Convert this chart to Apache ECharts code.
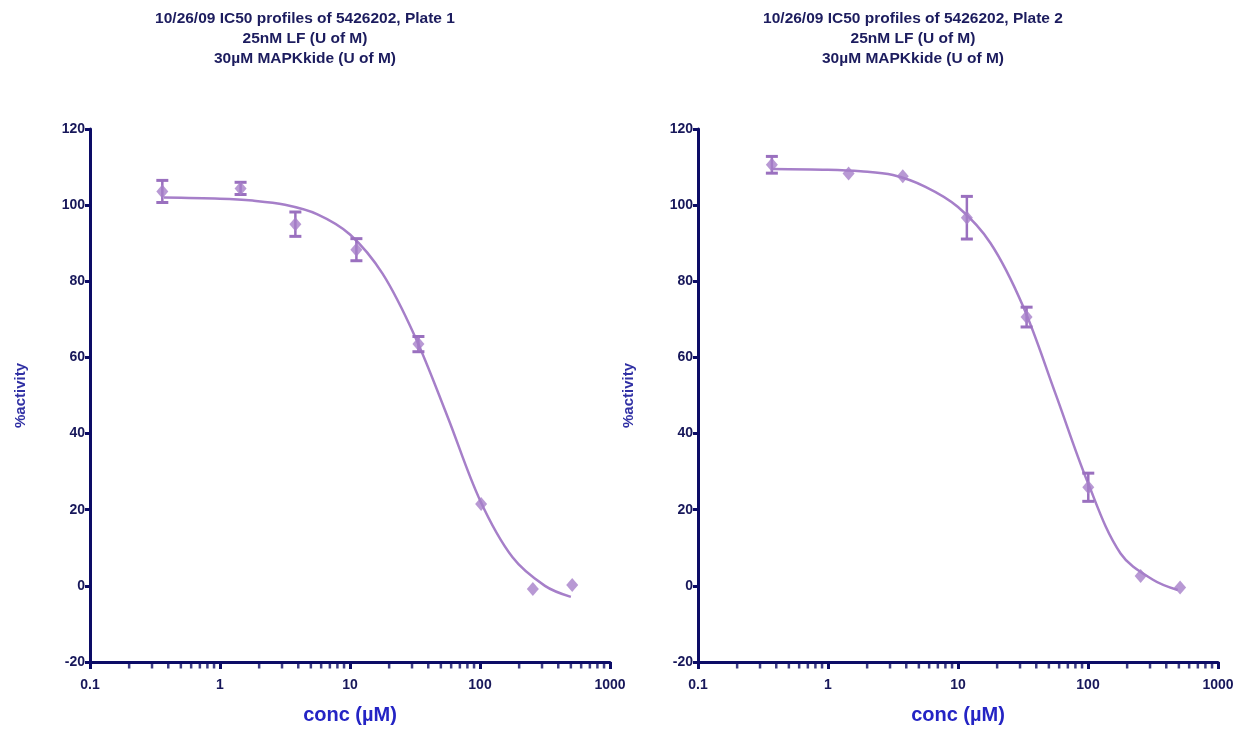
<!DOCTYPE html>
<html>
<head>
<meta charset="utf-8">
<script src="https://cdn.jsdelivr.net/npm/echarts@6/dist/echarts.min.js"></script>
<style>
html, body { margin: 0; background: #fff; }
#main { width: 1240px; height: 730px; }
</style>
</head>
<body>
<div id="main"></div>
<script>
// x axis minor ticks (2..9 of each decade)
var xMinor = [0.2, 0.3, 0.4, 0.5, 0.6, 0.7, 0.8, 0.9,
              2, 3, 4, 5, 6, 7, 8, 9,
              20, 30, 40, 50, 60, 70, 80, 90,
              200, 300, 400, 500, 600, 700, 800, 900];

// Plate 1
var conc1 = [0.36, 1.44, 3.8, 11.2, 33.6, 102, 255, 512];
var mean1 = [103.6, 104.4, 95.0, 88.3, 63.5, 21.5, -0.8, 0.2];
var err1  = [2.9, 1.6, 3.2, 2.9, 2.0, 0, 0, 0];
var fitX1 = [0.37, 1.0, 1.78, 3.16, 5.62, 10, 17.8, 31.6, 56.2, 100, 178, 316, 500];
var fitY1 = [102.0, 101.7, 101.2, 100.1, 97.6, 92.3, 82.0, 65.5, 44.5, 22.5, 7.5, 0.0, -2.9];

// Plate 2
var conc2 = [0.37, 1.44, 3.76, 11.7, 33.7, 100.5, 254, 511];
var mean2 = [110.6, 108.3, 107.6, 96.7, 70.6, 25.9, 2.6, -0.4];
var err2  = [2.2, 0, 0, 5.6, 2.6, 3.7, 0, 0];
var fitX2 = [0.37, 1.0, 1.78, 3.16, 5.62, 10, 17.8, 31.6, 56.2, 100, 178, 316, 490];
var fitY2 = [109.5, 109.3, 108.9, 107.9, 104.8, 99.5, 90.0, 73.5, 50.5, 27.0, 8.5, 1.6, -1.1];

var titles = [
  '10/26/09 IC50 profiles of 5426202, Plate 1\n25nM LF (U of M)\n30\u00b5M MAPKkide (U of M)',
  '10/26/09 IC50 profiles of 5426202, Plate 2\n25nM LF (U of M)\n30\u00b5M MAPKkide (U of M)'
];

var font = 'Liberation Sans, Arial, sans-serif';
var navy = '#0c0c66';
var labelNavy = '#17175a';
var purple = '#a67fc9';

var myChart = echarts.init(document.getElementById('main'));

function zip(a, b) {
  return a.map(function (v, i) { return [v, b[i]]; });
}

function xAxisOf(idx) {
  return {
    type: 'log', logBase: 10, gridIndex: idx, min: 0.1, max: 1000,
    name: 'conc (\u00b5M)', nameLocation: 'middle', nameGap: 43,
    nameTextStyle: { color: '#2424c4', fontSize: 20, fontWeight: 'bold', fontFamily: font },
    axisLine: { onZero: false, lineStyle: { color: navy, width: 3 } },
    axisTick: { length: 7, lineStyle: { color: navy, width: 3 } },
    axisLabel: { margin: 16, color: labelNavy, fontSize: 14, fontWeight: 'bold', fontFamily: font,
      formatter: function (v) { return String(+v.toPrecision(3)); } },
    splitLine: { show: false }
  };
}

function yAxisOf(idx) {
  return {
    type: 'value', gridIndex: idx, min: -20, max: 120, interval: 20,
    name: '%activity', nameLocation: 'middle', nameGap: 62,
    nameTextStyle: { color: '#3030a4', fontSize: 15, fontWeight: 'bold', fontFamily: font },
    axisLine: { show: true, lineStyle: { color: navy, width: 3 } },
    axisTick: { show: true, length: 5, lineStyle: { color: navy, width: 3 } },
    axisLabel: { margin: 5, color: labelNavy, fontSize: 14, fontWeight: 'bold', fontFamily: font },
    splitLine: { show: false }
  };
}

function errorBars(conc, mean, err, idx) {
  var data = [];
  conc.forEach(function (c, i) {
    if (err[i] > 0) data.push([c, mean[i] - err[i], mean[i] + err[i]]);
  });
  return {
    type: 'custom', xAxisIndex: idx, yAxisIndex: idx, z: 3,
    renderItem: function (params, api) {
      var lo = api.coord([api.value(0), api.value(1)]);
      var hi = api.coord([api.value(0), api.value(2)]);
      var w = 6;
      var st = { stroke: '#9a70bf', lineWidth: 2.5 };
      var cap = { stroke: '#9a70bf', lineWidth: 3 };
      return {
        type: 'group',
        children: [
          { type: 'line', shape: { x1: lo[0], y1: lo[1], x2: hi[0], y2: hi[1] }, style: st },
          { type: 'line', shape: { x1: lo[0] - w, y1: lo[1], x2: lo[0] + w, y2: lo[1] }, style: cap },
          { type: 'line', shape: { x1: hi[0] - w, y1: hi[1], x2: hi[0] + w, y2: hi[1] }, style: cap }
        ]
      };
    },
    data: data
  };
}

function panelSeries(conc, mean, err, fitX, fitY, idx) {
  return [
    {
      type: 'line', xAxisIndex: idx, yAxisIndex: idx, smooth: 0.35,
      showSymbol: false, data: zip(fitX, fitY),
      lineStyle: { color: purple, width: 2.5 }, z: 2
    },
    errorBars(conc, mean, err, idx),
    {
      type: 'scatter', xAxisIndex: idx, yAxisIndex: idx, symbol: 'diamond',
      symbolSize: [12, 14], data: zip(conc, mean),
      itemStyle: { color: purple }, z: 4
    },
    {
      // minor log ticks on the x axis
      type: 'scatter', xAxisIndex: idx, yAxisIndex: idx, symbol: 'rect',
      symbolSize: [2.5, 5], symbolOffset: [0, 4], clip: false, silent: true,
      data: xMinor.map(function (v) { return [v, -20]; }),
      itemStyle: { color: navy }, z: 1
    }
  ];
}

var titleStyle = { color: '#1c1c5e', fontSize: 15.5, fontWeight: 'bold', lineHeight: 20, fontFamily: font };

var option = {
  animation: false,
  title: [
    { text: titles[0], left: 300, top: 4, textAlign: 'center', textStyle: titleStyle },
    { text: titles[1], left: 908, top: 4, textAlign: 'center', textStyle: titleStyle }
  ],
  grid: [
    { left: 90, top: 129, width: 520, height: 537 },
    { left: 698, top: 129, width: 520, height: 537 }
  ],
  xAxis: [xAxisOf(0), xAxisOf(1)],
  yAxis: [yAxisOf(0), yAxisOf(1)],
  series: panelSeries(conc1, mean1, err1, fitX1, fitY1, 0)
    .concat(panelSeries(conc2, mean2, err2, fitX2, fitY2, 1))
};

myChart.setOption(option);
</script>
</body>
</html>
